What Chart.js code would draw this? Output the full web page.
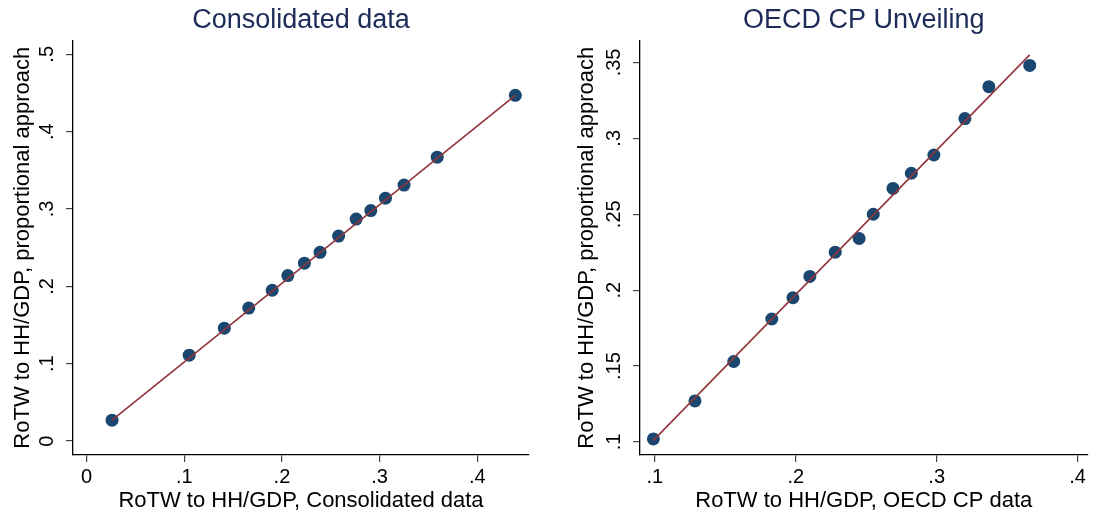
<!DOCTYPE html>
<html>
<head>
<meta charset="utf-8">
<script src="https://cdn.jsdelivr.net/npm/chart.js@4/dist/chart.umd.min.js"></script>
<style>
  html, body { margin: 0; padding: 0; background: #fff; }
  #wrap { position: relative; width: 1094px; height: 516px; }
  #wrap canvas { position: absolute; top: 0; }
  #painel-cons { left: 0; }
  #painel-oecd { left: 547px; }
</style>
</head>
<body>
<div id="wrap">
  <canvas id="painel-cons" width="547" height="516"></canvas>
  <canvas id="painel-oecd" width="547" height="516"></canvas>
</div>
<script>
/* =========================
   Dados
========================= */

// Consolidated data
const consX = [0.026, 0.105, 0.141, 0.166, 0.190, 0.206, 0.223, 0.239, 0.258, 0.276, 0.291, 0.306, 0.325, 0.359, 0.439];
const consY = [0.027, 0.111, 0.146, 0.172, 0.195, 0.214, 0.230, 0.244, 0.265, 0.287, 0.298, 0.314, 0.331, 0.367, 0.447];
const consFitX = [0.026, 0.439];
const consFitY = [0.027, 0.447];
const consXTicks = [0, 0.1, 0.2, 0.3, 0.4];
const consXLabels = ['0', '.1', '.2', '.3', '.4'];
const consYTicks = [0, 0.1, 0.2, 0.3, 0.4, 0.5];
const consYLabels = ['0', '.1', '.2', '.3', '.4', '.5'];

// OECD CP Unveiling
const oecdX = [0.099, 0.1285, 0.156, 0.183, 0.198, 0.210, 0.228, 0.245, 0.255, 0.269, 0.282, 0.298, 0.320, 0.337, 0.366];
const oecdY = [0.102, 0.127, 0.153, 0.181, 0.195, 0.209, 0.225, 0.234, 0.250, 0.267, 0.277, 0.289, 0.313, 0.334, 0.348];
const oecdFitX = [0.099, 0.366];
const oecdFitY = [0.101, 0.355];
const oecdXTicks = [0.1, 0.2, 0.3, 0.4];
const oecdXLabels = ['.1', '.2', '.3', '.4'];
const oecdYTicks = [0.1, 0.15, 0.2, 0.25, 0.3, 0.35];
const oecdYLabels = ['.1', '.15', '.2', '.25', '.3', '.35'];

/* =========================
   Estilo
========================= */

const FONTE = '"Liberation Sans", Arial, Helvetica, sans-serif';
const COR_PONTO = '#1a476f';
const COR_LINHA = '#90353b';
const COR_TITULO = '#1c2b58';

Chart.defaults.font.family = FONTE;
Chart.defaults.color = '#000';

const pares = (xs, ys) => xs.map((x, i) => ({ x, y: ys[i] }));

// Stata-style vertical tick labels on the y axis
const rotuloYVertical = {
  id: 'rotuloYVertical',
  afterDraw(chart, args, opts) {
    const escala = chart.scales.y;
    const ctx = chart.ctx;
    ctx.save();
    ctx.font = `20px ${FONTE}`;
    ctx.fillStyle = '#000';
    ctx.textAlign = 'center';
    ctx.textBaseline = 'middle';
    escala.ticks.forEach((t, i) => {
      const y = escala.getPixelForValue(t.value);
      ctx.save();
      ctx.translate(chart.chartArea.left - opts.offset, y);
      ctx.rotate(-Math.PI / 2);
      ctx.fillText(opts.labels[i], 0, 0);
      ctx.restore();
    });
    ctx.restore();
  }
};

function criarPainel(id, p) {
  const ctx = document.getElementById(id).getContext('2d');
  return new Chart(ctx, {
    data: {
      datasets: [
        {
          type: 'line',
          data: pares(p.fitX, p.fitY),
          borderColor: COR_LINHA,
          borderWidth: 1.6,
          pointRadius: 0,
          fill: false,
          tension: 0
        },
        {
          type: 'scatter',
          data: pares(p.x, p.y),
          backgroundColor: COR_PONTO,
          borderWidth: 0,
          pointRadius: 6.5
        }
      ]
    },
    options: {
      responsive: false,
      animation: false,
      devicePixelRatio: 1,
      layout: { padding: { top: 0, left: 0, bottom: 0, right: p.padDireita } },
      plugins: {
        legend: { display: false },
        tooltip: { enabled: false },
        title: {
          display: true,
          text: p.titulo,
          color: COR_TITULO,
          fullSize: false,
          font: { size: 27, weight: 'normal', family: FONTE },
          padding: { top: 4, bottom: 4 }
        },
        rotuloYVertical: { labels: p.yLabels, offset: 26 }
      },
      scales: {
        x: {
          type: 'linear',
          min: p.xMin,
          max: p.xMax,
          afterBuildTicks: s => { s.ticks = p.xTicks.map(v => ({ value: v })); },
          afterFit: s => { s.height = 61; },
          ticks: {
            font: { size: 20 },
            color: '#000',
            padding: 3,
            maxRotation: 0,
            callback: (v, i) => p.xLabels[i]
          },
          grid: { display: true, drawOnChartArea: false, drawTicks: true, tickLength: 7, color: '#444', lineWidth: 1.2 },
          border: { display: true, color: '#000', width: 1.3 },
          title: {
            display: true,
            text: p.xTitulo,
            color: '#000',
            font: { size: 22 },
            padding: { top: 0, bottom: 2 }
          }
        },
        y: {
          type: 'linear',
          min: p.yMin,
          max: p.yMax,
          afterBuildTicks: s => { s.ticks = p.yTicks.map(v => ({ value: v })); },
          afterFit: s => { s.width = p.larguraY; },
          ticks: { display: false },
          grid: { display: true, drawOnChartArea: false, drawTicks: true, tickLength: 7, color: '#444', lineWidth: 1.2 },
          border: { display: true, color: '#000', width: 1.3 },
          title: {
            display: true,
            text: 'RoTW to HH/GDP, proportional approach',
            color: '#000',
            font: { size: 22 },
            padding: { top: p.padTituloY, bottom: 0 }
          }
        }
      }
    },
    plugins: [rotuloYVertical]
  });
}

criarPainel('painel-cons', {
  titulo: 'Consolidated data',
  xTitulo: 'RoTW to HH/GDP, Consolidated data',
  x: consX, y: consY, fitX: consFitX, fitY: consFitY,
  xTicks: consXTicks, xLabels: consXLabels,
  yTicks: consYTicks, yLabels: consYLabels,
  xMin: -0.014, xMax: 0.453,
  yMin: -0.018, yMax: 0.518,
  larguraY: 73, padTituloY: 10, padDireita: 18
});

criarPainel('painel-oecd', {
  titulo: 'OECD CP Unveiling',
  xTitulo: 'RoTW to HH/GDP, OECD CP data',
  x: oecdX, y: oecdY, fitX: oecdFitX, fitY: oecdFitY,
  xTicks: oecdXTicks, xLabels: oecdXLabels,
  yTicks: oecdYTicks, yLabels: oecdYLabels,
  xMin: 0.0895, xMax: 0.407,
  yMin: 0.0914, yMax: 0.3645,
  larguraY: 93, padTituloY: 27, padDireita: 1
});
</script>
</body>
</html>
